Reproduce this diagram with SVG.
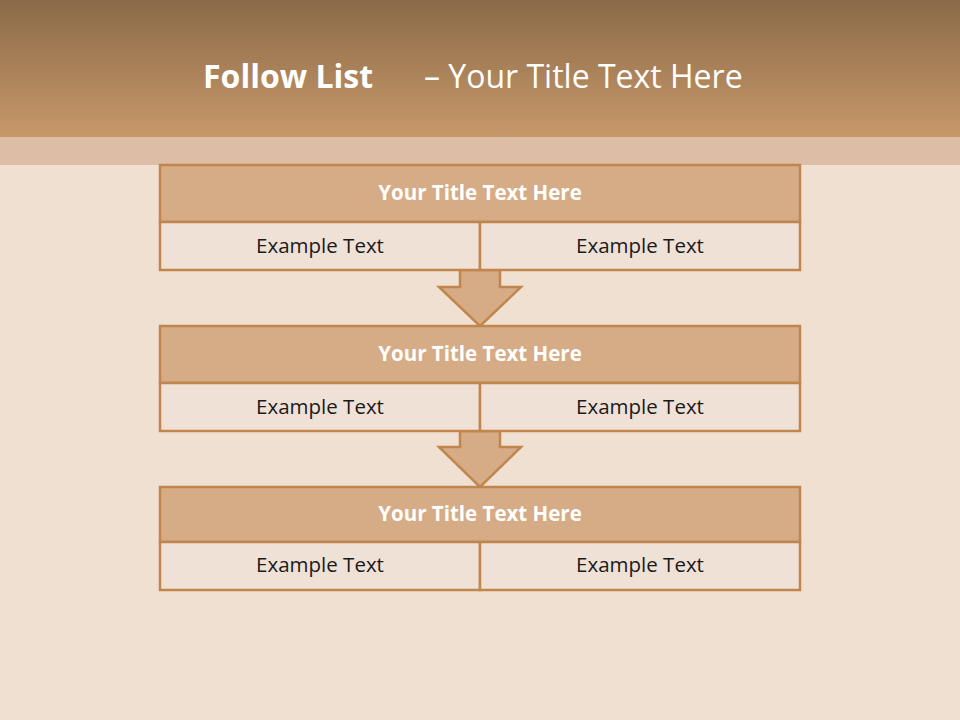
<svg xmlns="http://www.w3.org/2000/svg" width="960" height="720" viewBox="0 0 960 720">
<defs>
<linearGradient id="hdr" x1="0" y1="0" x2="0" y2="1">
<stop offset="0" stop-color="#8a6a48"/>
<stop offset="1" stop-color="#c8986a"/>
</linearGradient>
<style>
.ttl{fill:#d5ac86;stroke:#c0864e;stroke-width:2.5}
.cell{fill:#f0e1d7;stroke:#c0864e;stroke-width:2.5}
.arr{fill:#d5ac86;stroke:#c0864e;stroke-width:2.5;stroke-linejoin:miter}
.th{font-family:"Open Sans","Liberation Sans",sans-serif;font-weight:bold;font-size:20.5px;fill:#ffffff;text-anchor:middle}
.ex{font-family:"Open Sans","Liberation Sans",sans-serif;font-size:20.5px;fill:#1a1a1a;text-anchor:middle}
.hd{font-family:"Open Sans","Liberation Sans",sans-serif;font-size:32px;fill:#ffffff}
</style>
</defs>
<rect width="960" height="720" fill="#efe0d2"/>
<rect y="0" width="960" height="137" fill="url(#hdr)"/>
<rect y="137" width="960" height="28" fill="#ddbda6"/>
<g id="title">
<text class="hd" x="203" y="88" font-weight="bold">Follow List</text>
<text class="hd" x="424" y="88">– Your Title Text Here</text>
</g>
<g id="connectors">
<path class="arr" d="M460 270 L500 270 L500 287 L521 287 L480 326 L439 287 L460 287 Z"/>
<path class="arr" d="M460 431 L500 431 L500 447 L521 447 L480 487 L439 447 L460 447 Z"/>
</g>
<g id="node1">
<rect class="ttl" x="160" y="165" width="640" height="57"/>
<rect class="cell" x="160" y="222" width="320" height="48"/>
<rect class="cell" x="480" y="222" width="320" height="48"/>
<text class="th" x="480" y="200">Your Title Text Here</text>
<text class="ex" x="320" y="253">Example Text</text>
<text class="ex" x="640" y="253">Example Text</text>
</g>
<g id="node2">
<rect class="ttl" x="160" y="326" width="640" height="57"/>
<rect class="cell" x="160" y="383" width="320" height="48"/>
<rect class="cell" x="480" y="383" width="320" height="48"/>
<text class="th" x="480" y="361">Your Title Text Here</text>
<text class="ex" x="320" y="414">Example Text</text>
<text class="ex" x="640" y="414">Example Text</text>
</g>
<g id="node3">
<rect class="ttl" x="160" y="487" width="640" height="55"/>
<rect class="cell" x="160" y="542" width="320" height="48"/>
<rect class="cell" x="480" y="542" width="320" height="48"/>
<text class="th" x="480" y="521">Your Title Text Here</text>
<text class="ex" x="320" y="572">Example Text</text>
<text class="ex" x="640" y="572">Example Text</text>
</g>
</svg>
